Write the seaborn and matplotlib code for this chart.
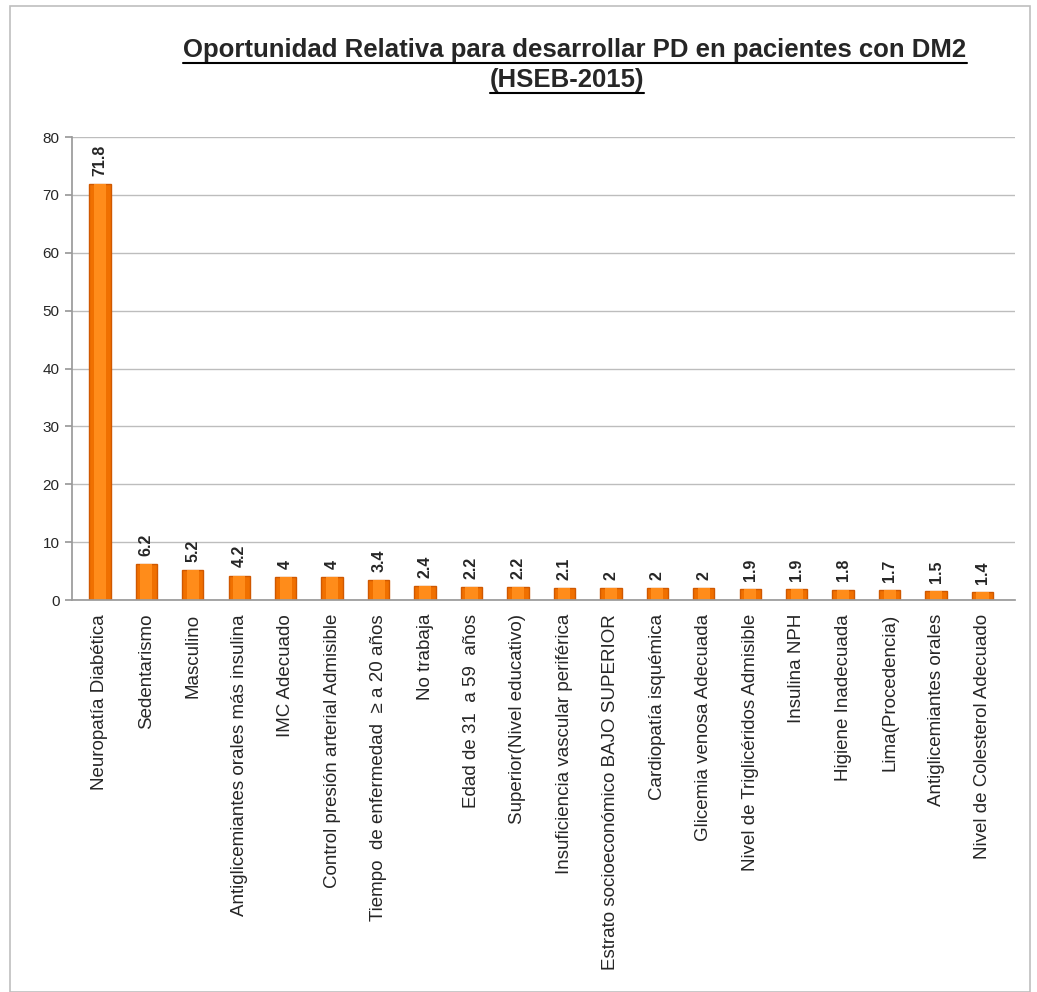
import matplotlib
matplotlib.use("Agg")
import matplotlib.pyplot as plt
import seaborn as sns
import pandas as pd
from matplotlib.patches import Rectangle

categories = [
    "Neuropatía Diabética", "Sedentarismo", "Masculino",
    "Antiglicemiantes orales más insulina", "IMC Adecuado",
    "Control presión arterial Admisible", "Tiempo  de enfermedad  ≥ a 20 años",
    "No trabaja", "Edad de 31  a 59  años", "Superior(Nivel educativo)",
    "Insuficiencia vascular periférica", "Estrato socioeconómico BAJO SUPERIOR",
    "Cardiopatía isquémica", "Glicemia venosa Adecuada",
    "Nivel de Triglicéridos Admisible", "Insulina NPH", "Higiene Inadecuada",
    "Lima(Procedencia)", "Antiglicemiantes orales", "Nivel de Colesterol Adecuado",
]
values = [71.8, 6.2, 5.2, 4.2, 4, 4, 3.4, 2.4, 2.2, 2.2, 2.1, 2, 2, 2, 1.9, 1.9, 1.8, 1.7, 1.5, 1.4]
value_labels = ["71.8", "6.2", "5.2", "4.2", "4", "4", "3.4", "2.4", "2.2", "2.2", "2.1",
                "2", "2", "2", "1.9", "1.9", "1.8", "1.7", "1.5", "1.4"]
yticks = [0, 10, 20, 30, 40, 50, 60, 70, 80]

sns.set_theme(style="white")
plt.rcParams['font.family'] = ['Liberation Sans', 'DejaVu Sans']

W, H = 1037, 992
fig = plt.figure(figsize=(W / 100, H / 100), dpi=100)
fig.patch.set_facecolor("white")
fig.add_artist(Rectangle((10 / W, 0), (1030 - 10) / W, (992 - 6) / H, transform=fig.transFigure,
                         fill=False, edgecolor="#bfbfbf", linewidth=1.2))

ax = fig.add_axes([72 / W, 1 - 600 / H, (1015 - 72) / W, (600 - 137) / H])
df = pd.DataFrame({"cat": categories, "val": values})
sns.barplot(data=df, x="cat", y="val", color="#F07000", width=0.46, ax=ax,
            edgecolor="#D05800", linewidth=1.0, saturation=1)
# lighter core for cylinder shading
sns.barplot(data=df, x="cat", y="val", color="#FF8C1A", width=0.26, ax=ax,
            linewidth=0, saturation=1)

ax.set_xlim(-0.6, 19.7)
ax.set_ylim(0, 80)
ax.set_yticks(yticks)
ax.set_yticklabels([str(t) for t in yticks], fontsize=11)
ax.yaxis.grid(True, color="#bdbdbd", linewidth=1)
ax.set_axisbelow(True)
for s in ["top", "right"]:
    ax.spines[s].set_visible(False)
ax.spines["left"].set_color("#9a9a9a")
ax.spines["bottom"].set_color("#9a9a9a")
ax.tick_params(axis="y", length=5, color="#9a9a9a", left=True, pad=4)
ax.tick_params(axis="x", length=0, pad=10)
ax.set_xlabel("")
ax.set_ylabel("")
ax.set_xticks(range(len(categories)))
ax.set_xticklabels(categories, rotation=90, fontsize=13.5)

for i, (v, lab) in enumerate(zip(values, value_labels)):
    ax.annotate(lab, (i, v), xytext=(0, 6), textcoords="offset points",
                rotation=90, ha="center", va="bottom", fontsize=11.5, fontweight="bold")

t1 = fig.text(575 / W, 1 - 50 / H, "Oportunidad Relativa para desarrollar PD en pacientes con DM2",
              ha="center", va="center", fontsize=18.5, fontweight="bold")
t2 = fig.text(567 / W, 1 - 80 / H, "(HSEB-2015)", ha="center", va="center",
              fontsize=18.5, fontweight="bold")
fig.canvas.draw()
r = fig.canvas.get_renderer()
for t in (t1, t2):
    bb = t.get_window_extent(renderer=r)
    y = (bb.y0 - 1) / H
    fig.add_artist(plt.Line2D([bb.x0 / W, bb.x1 / W], [y, y], color="black", linewidth=1.5,
                              transform=fig.transFigure))

fig.savefig("out.png", dpi=100)
